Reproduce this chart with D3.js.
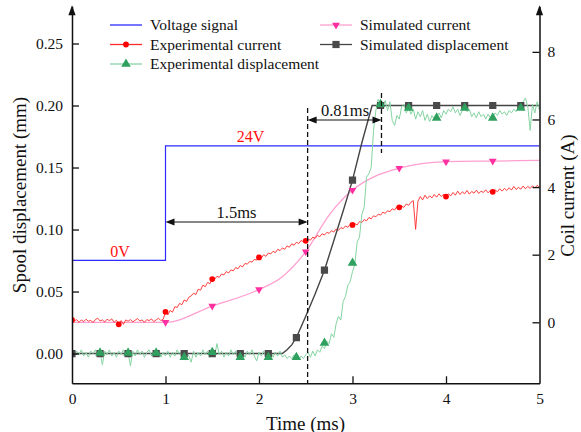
<!DOCTYPE html>
<html>
<head>
<meta charset="utf-8">
<script src="https://cdn.jsdelivr.net/npm/d3@7"></script>
<style>
  body { margin: 0; background: #fff; }
  text { font-family: "Liberation Serif", "Times New Roman", serif; fill: #111; }
</style>
</head>
<body>
<svg id="chart" width="581" height="432"></svg>
<script>
// ---- data ----
const sampleStep = 0.025; // ms between samples of the measured traces

// experimental coil current (A), t = 0 .. 5 ms
const expCurrent = [
  0.10,
  0.04, 0.08, 0.00, 0.07, 0.02, 0.09, 0.03, 0.06, -0.01, 0.08, 0.12, 0.04, 0.07, 0.01, 0.09, 0.05, 0.10, 0.00, 0.06, -0.04,
  0.05, -0.06, 0.07, 0.03, 0.08, 0.01, 0.06, 0.11, 0.04, 0.07, 0.00, 0.08, 0.05, 0.10, 0.02, 0.07, 0.12, 0.05, 0.09, 0.30,
  0.22, 0.35, 0.30, 0.46, 0.44, 0.56, 0.52, 0.66, 0.62, 0.74, 0.78, 0.86, 0.82, 0.98, 0.95, 1.10, 1.05, 1.18, 1.14, 1.28,
  1.27, 1.36, 1.33, 1.43, 1.40, 1.50, 1.46, 1.55, 1.52, 1.62, 1.58, 1.68, 1.64, 1.74, 1.72, 1.80, 1.78, 1.86, 1.84, 1.92,
  1.90, 2.00, 1.95, 2.05, 2.02, 2.10, 2.06, 2.16, 2.12, 2.20, 2.16, 2.26, 2.22, 2.32, 2.28, 2.37, 2.33, 2.42, 2.38, 2.41,
  2.46, 2.43, 2.52, 2.48, 2.57, 2.53, 2.62, 2.58, 2.66, 2.63, 2.71, 2.67, 2.76, 2.72, 2.80, 2.77, 2.85, 2.81, 2.90, 2.88,
  2.92, 2.88, 2.98, 2.95, 3.04, 3.00, 3.10, 3.06, 3.15, 3.12, 3.20, 3.17, 3.26, 3.22, 3.30, 3.27, 3.36, 3.32, 3.42, 3.40,
  3.44, 3.40, 3.50, 3.46, 3.55, 3.60, 2.75, 3.58, 3.72, 3.62, 3.76, 3.66, 3.74, 3.68, 3.78, 3.70, 3.80, 3.72, 3.79, 3.72,
  3.80, 3.74, 3.84, 3.76, 3.88, 3.78, 3.86, 3.80, 3.90, 3.79, 3.87, 3.82, 3.91, 3.81, 3.88, 3.84, 3.92, 3.83, 3.90, 3.86,
  3.92, 3.86, 3.95, 3.88, 3.96, 3.90, 3.98, 3.91, 4.02, 3.93, 3.99, 3.94, 4.03, 3.95, 4.02, 3.96, 4.04, 3.97, 4.05, 4.00
];

// experimental spool displacement (mm), t = 0 .. 5 ms
const expDisp = [
  0.001,
  -0.002, 0.002, -0.001, 0.003, -0.002, 0.001, -0.003, 0.002, 0.000, 0.003, -0.002, 0.001, -0.009, 0.002, -0.001, 0.003, -0.002, 0.001, -0.003, 0.002,
  -0.001, 0.003, -0.002, 0.001, -0.010, 0.002, -0.002, 0.003, -0.001, 0.002, -0.003, 0.001, 0.003, -0.002, 0.002, -0.001, 0.003, -0.003, 0.001, -0.002,
  0.002, -0.003, 0.001, -0.002, 0.003, -0.001, 0.002, -0.004, 0.001, -0.002, -0.007, 0.002, -0.003, 0.001, -0.002, 0.003, -0.001, 0.002, -0.003, 0.001,
  -0.002, 0.008, -0.001, 0.002, -0.003, 0.001, -0.002, 0.003, -0.001, 0.002, -0.004, -0.002, 0.001, -0.003, 0.002, -0.001, 0.003, -0.002, -0.006, 0.001,
  -0.002, 0.002, -0.003, -0.001, 0.002, -0.003, 0.001, -0.002, 0.002, -0.003, -0.001, -0.004, -0.002, -0.004, -0.001, -0.003, -0.005, -0.002, -0.004, -0.001,
  0.001, -0.003, 0.002, -0.002, 0.003, 0.001, 0.006, 0.004, 0.010, 0.008, 0.016, 0.013, 0.024, 0.030, 0.027, 0.042, 0.046, 0.055, 0.058, 0.066,
  0.072, 0.090, 0.094, 0.112, 0.118, 0.142, 0.145, 0.150, 0.180, 0.196, 0.205, 0.201, 0.199, 0.204, 0.196, 0.203, 0.188, 0.184, 0.192, 0.189,
  0.199, 0.201, 0.194, 0.198, 0.193, 0.197, 0.189, 0.195, 0.191, 0.196, 0.188, 0.193, 0.187, 0.192, 0.189, 0.191, 0.194, 0.190, 0.196, 0.193,
  0.197, 0.195, 0.199, 0.194, 0.197, 0.192, 0.196, 0.198, 0.195, 0.197, 0.191, 0.194, 0.190, 0.195, 0.191, 0.193, 0.189, 0.193, 0.190, 0.191,
  0.194, 0.192, 0.196, 0.193, 0.195, 0.192, 0.196, 0.194, 0.197, 0.195, 0.198, 0.197, 0.203, 0.206, 0.199, 0.180, 0.201, 0.194, 0.203, 0.196
];

// simulated coil current (A)
const simCurrentT = [0, 1.0, 1.5, 2.0, 2.25, 2.5, 2.75, 3.0, 3.25, 3.5, 4.0, 4.5, 5.0];
const simCurrentV = [0, 0.0, 0.48, 0.97, 1.35, 2.09, 3.17, 3.91, 4.33, 4.56, 4.75, 4.77, 4.79];

// simulated spool displacement (mm)
const simDispT = [0, 2.1, 2.25, 2.3, 2.35, 2.4, 2.5, 2.6, 2.7, 2.8, 2.9, 3.0, 3.1, 3.21, 5.0];
const simDispV = [0, 0, 0, 0.003, 0.007, 0.0129, 0.030, 0.048, 0.0672, 0.091, 0.115, 0.1398, 0.170, 0.200, 0.200];

// symbol positions
const expCurrentMarkT = [0, 0.5, 1.0, 1.5, 2.0, 2.5, 3.0, 3.5, 4.0, 4.5];
const expCurrentMarkV = [0.07, -0.06, 0.31, 1.28, 1.92, 2.41, 2.88, 3.40, 3.72, 3.86];
const simCurrentMarkT = [1.0, 1.5, 2.0, 2.5, 3.0, 3.5, 4.0, 4.5];
const simCurrentMarkV = [0.0, 0.48, 0.97, 2.09, 3.91, 4.56, 4.75, 4.77];
const simDispMarkT = [0, 0.3, 0.6, 0.9, 1.2, 1.5, 1.8, 2.1, 2.4, 2.7, 3.0, 3.3, 3.6, 3.9, 4.2, 4.5, 4.8];
const simDispMarkV = [0, 0, 0, 0, 0, 0, 0, 0, 0.0129, 0.0672, 0.1398, 0.200, 0.200, 0.200, 0.200, 0.200, 0.200];
const expDispMarkT = [0.3, 0.6, 0.9, 1.2, 1.5, 1.8, 2.1, 2.4, 2.7, 3.0, 3.3, 3.6, 3.9, 4.2, 4.5, 4.8];
const expDispMarkV = [0.0005, 0.0005, 0.0005, -0.003, 0.001, -0.003, -0.003, -0.003, 0.0085, 0.073, 0.201, 0.198, 0.190, 0.198, 0.190, 0.198];

// voltage signal (V), drawn on its own scale
const voltT = [0, 1, 1, 5];
const voltV = [0, 0, 24, 24];

// ticks
const xTicks = [0, 1, 2, 3, 4, 5];
const dispTicks = [0, 0.05, 0.10, 0.15, 0.20, 0.25];
const currentTicks = [0, 2, 4, 6, 8];

// annotation times
const markStart = 2.52, markEnd = 3.31;

// ---- chart ----
const svg = d3.select("#chart");
const W = 581, H = 432;
const padL = 72, padR = 539.5, padB = 383.3, padT = 6.3;

const x = d3.scaleLinear().domain([0, 5]).range([padL, padR]);
const yDisp = d3.scaleLinear().domain([-0.024, 0.28]).range([padB, padT]);
const yCur = d3.scaleLinear().domain([-1.805, 9.348]).range([padB, padT]);
const yVolt = d3.scaleLinear().domain([0, 24]).range([yDisp(0.0752), yDisp(0.1674)]);

const colors = {
  volt: "#2b2bff", expCur: "#ff2a2a", expCurMark: "#ff0000",
  simCur: "#ff9fd0", simCurMark: "#ff2fa0",
  simDisp: "#444", simDispMark: "#4a4a4a",
  expDisp: "#86d3a2", expDispMark: "#2fa05e"
};

svg.append("rect").attr("width", W).attr("height", H).attr("fill", "#fff");

svg.append("clipPath").attr("id", "plotClip")
  .append("rect").attr("x", padL).attr("y", padT - 4).attr("width", padR - padL).attr("height", padB - padT + 4);

const plot = svg.append("g").attr("clip-path", "url(#plotClip)");

const lineOf = (yScale, curve) => d3.line().x(d => x(d[0])).y(d => yScale(d[1])).curve(curve || d3.curveLinear);
const sampled = vals => vals.map((v, i) => [i * sampleStep, v]);
const zip = (ts, vs) => ts.map((t, i) => [t, vs[i]]);

// voltage signal
plot.append("path").datum(zip(voltT, voltV))
  .attr("d", lineOf(yVolt)).attr("fill", "none").attr("stroke", colors.volt).attr("stroke-width", 1.2);

// simulated current
plot.append("path").datum(zip(simCurrentT, simCurrentV))
  .attr("d", lineOf(yCur, d3.curveMonotoneX)).attr("fill", "none").attr("stroke", colors.simCur).attr("stroke-width", 1.3);

// experimental current
plot.append("path").datum(sampled(expCurrent))
  .attr("d", lineOf(yCur)).attr("fill", "none").attr("stroke", colors.expCur).attr("stroke-width", 0.9);

// simulated displacement
plot.append("path").datum(zip(simDispT, simDispV))
  .attr("d", lineOf(yDisp)).attr("fill", "none").attr("stroke", colors.simDisp).attr("stroke-width", 1.4);

// experimental displacement
plot.append("path").datum(sampled(expDisp))
  .attr("d", lineOf(yDisp)).attr("fill", "none").attr("stroke", colors.expDisp).attr("stroke-width", 1);

// symbols
const sym = (type, size) => d3.symbol().type(type).size(size)();
const triUp = sym(d3.symbolTriangle, 40);
const triDown = sym(d3.symbolTriangle, 26);
const square = sym(d3.symbolSquare, 52);
const circle = sym(d3.symbolCircle, 26);

plot.selectAll(".simCurMark").data(zip(simCurrentMarkT, simCurrentMarkV)).join("path")
  .attr("d", triDown).attr("fill", colors.simCurMark)
  .attr("transform", d => `translate(${x(d[0])},${yCur(d[1])}) rotate(180)`);

plot.selectAll(".expCurMark").data(zip(expCurrentMarkT, expCurrentMarkV)).join("path")
  .attr("d", circle).attr("fill", colors.expCurMark)
  .attr("transform", d => `translate(${x(d[0])},${yCur(d[1])})`);

plot.selectAll(".simDispMark").data(zip(simDispMarkT, simDispMarkV)).join("path")
  .attr("d", square).attr("fill", colors.simDispMark)
  .attr("transform", d => `translate(${x(d[0])},${yDisp(d[1])})`);

plot.selectAll(".expDispMark").data(zip(expDispMarkT, expDispMarkV)).join("path")
  .attr("d", triUp).attr("fill", colors.expDispMark)
  .attr("transform", d => `translate(${x(d[0])},${yDisp(d[1])})`);

// ---- annotations ----
const ann = svg.append("g");
ann.append("line").attr("x1", x(markStart)).attr("x2", x(markStart))
  .attr("y1", 108).attr("y2", padB)
  .attr("stroke", "#111").attr("stroke-width", 1.3).attr("stroke-dasharray", "5,3");
ann.append("line").attr("x1", x(markEnd)).attr("x2", x(markEnd))
  .attr("y1", 93).attr("y2", 153)
  .attr("stroke", "#111").attr("stroke-width", 1.3).attr("stroke-dasharray", "5,3");

function dimArrow(x1, x2, y) {
  ann.append("line").attr("x1", x1 + 6).attr("x2", x2 - 6).attr("y1", y).attr("y2", y)
    .attr("stroke", "#111").attr("stroke-width", 1.2);
  ann.append("path").attr("d", `M${x1},${y}L${x1 + 9},${y - 3.5}L${x1 + 9},${y + 3.5}Z`).attr("fill", "#111");
  ann.append("path").attr("d", `M${x2},${y}L${x2 - 9},${y - 3.5}L${x2 - 9},${y + 3.5}Z`).attr("fill", "#111");
}
dimArrow(x(1), x(markStart), 222);
dimArrow(x(markStart), x(markEnd), 120);

ann.append("text").attr("x", (x(1) + x(markStart)) / 2).attr("y", 218).attr("text-anchor", "middle")
  .style("font-size", "16.5px").text("1.5ms");
ann.append("text").attr("x", (x(markStart) + x(markEnd)) / 2 + 0.5).attr("y", 116).attr("text-anchor", "middle")
  .style("font-size", "16.5px").text("0.81ms");

ann.append("text").attr("x", 120).attr("y", 256.5).attr("text-anchor", "middle")
  .style("font-size", "16px").style("fill", "#ff1010").text("0V");
ann.append("text").attr("x", 250.5).attr("y", 142).attr("text-anchor", "middle")
  .style("font-size", "16px").style("fill", "#ff1010").text("24V");

// ---- axes ----
const axisG = svg.append("g");
const xAxis = axisG.append("g").attr("transform", `translate(0,${padB})`)
  .call(d3.axisBottom(x).tickValues(xTicks).tickFormat(d3.format("d")).tickSizeInner(-7).tickSizeOuter(0).tickPadding(9.5));
const lAxis = axisG.append("g").attr("transform", `translate(${padL},0)`)
  .call(d3.axisLeft(yDisp).tickValues(dispTicks).tickFormat(d3.format(".2f")).tickSizeInner(-7).tickSizeOuter(0).tickPadding(9));
const rAxis = axisG.append("g").attr("transform", `translate(${padR},0)`)
  .call(d3.axisRight(yCur).tickValues(currentTicks).tickFormat(d3.format("d")).tickSizeInner(-7).tickSizeOuter(0).tickPadding(8));

[xAxis, lAxis, rAxis].forEach(g => {
  g.select(".domain").attr("stroke", "#111").attr("stroke-width", 1.5);
  g.selectAll(".tick line").attr("stroke", "#111").attr("stroke-width", 1.3);
  g.selectAll(".tick text").attr("fill", "#111").style("font-size", "15.5px")
    .style("font-family", '"Liberation Serif", "Times New Roman", serif');
});
// hide the ticks that sit on the frame corners
xAxis.selectAll(".tick line").filter(d => d === 0 || d === 5).remove();

// arrow heads on the vertical axes
[padL, padR].forEach(ax => {
  axisG.append("path").attr("d", `M${ax},${padT - 1}L${ax - 3.6},${padT + 9}L${ax + 3.6},${padT + 9}Z`).attr("fill", "#111");
});

// axis titles
svg.append("text").attr("x", 305.5).attr("y", 429.5).attr("text-anchor", "middle")
  .style("font-size", "19px").text("Time (ms)");
svg.append("text").attr("transform", "translate(26,195) rotate(-90)").attr("text-anchor", "middle")
  .style("font-size", "19px").text("Spool displacement (mm)");
svg.append("text").attr("transform", "translate(573.5,195.5) rotate(-90)").attr("text-anchor", "middle")
  .style("font-size", "19px").text("Coil current (A)");

// ---- legend ----
const legendItems = [
  { label: "Voltage signal", color: colors.volt, mark: null, x: 110, y: 25 },
  { label: "Experimental current", color: colors.expCur, mark: circle, markColor: colors.expCurMark, x: 110, y: 44.5 },
  { label: "Experimental displacement", color: colors.expDisp, mark: triUp, markColor: colors.expDispMark, x: 110, y: 64 },
  { label: "Simulated current", color: colors.simCur, mark: triDown, markColor: colors.simCurMark, rot: 180, x: 320, y: 25 },
  { label: "Simulated displacement", color: colors.simDisp, mark: square, markColor: colors.simDispMark, x: 320, y: 44.5 }
];
const legend = svg.append("g");
legendItems.forEach(it => {
  const g = legend.append("g").attr("transform", `translate(${it.x},${it.y})`);
  g.append("line").attr("x1", 0).attr("x2", 32).attr("stroke", it.color).attr("stroke-width", 1.3);
  if (it.mark) {
    g.append("path").attr("d", it.mark).attr("fill", it.markColor)
      .attr("transform", `translate(16,0)${it.rot ? " rotate(180)" : ""}`);
  }
  g.append("text").attr("x", 40).attr("y", 5).style("font-size", "15.5px").text(it.label);
});
</script>
</body>
</html>
